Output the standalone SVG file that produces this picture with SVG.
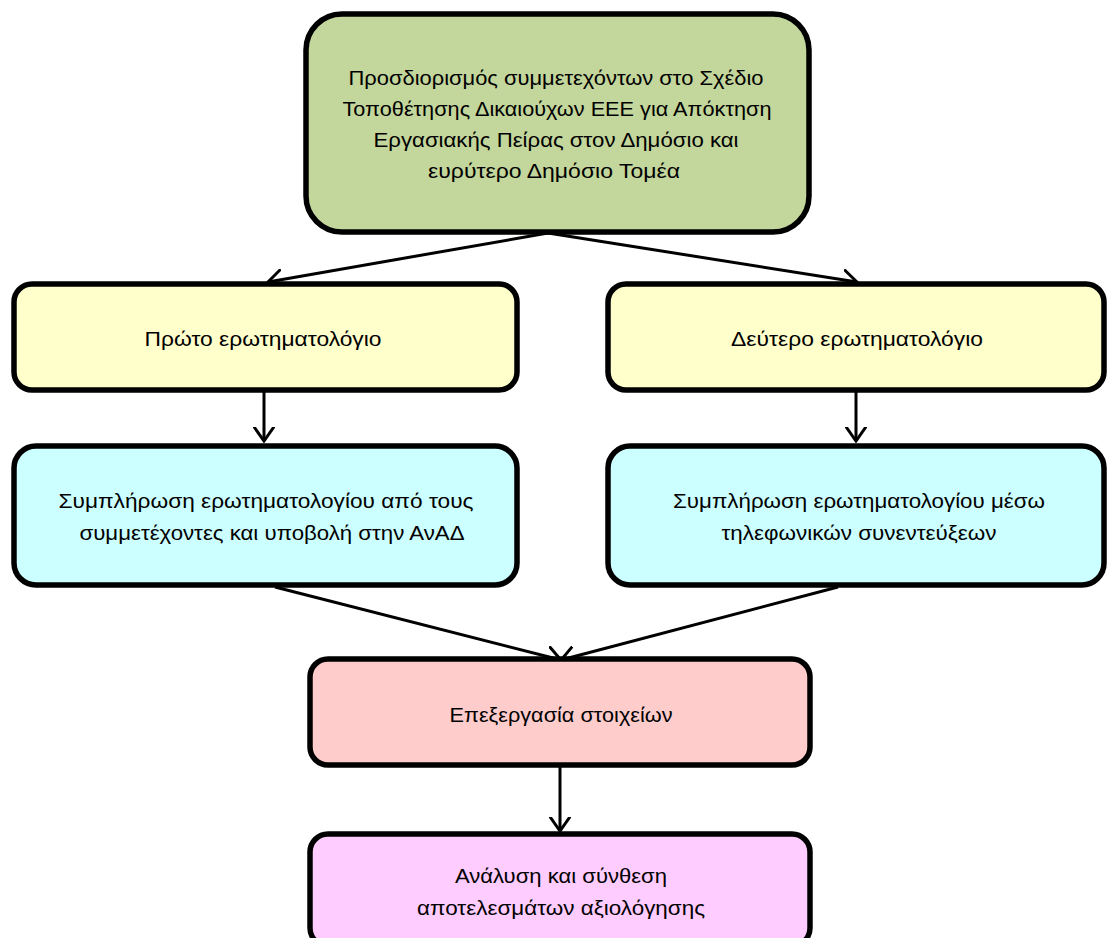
<svg xmlns="http://www.w3.org/2000/svg" width="1107" height="938" viewBox="0 0 1107 938">
<style>
.box{stroke:#000;stroke-width:5.5}
.t{font-family:"Liberation Sans",Arial,sans-serif;font-size:21px;fill:#000;text-anchor:middle}
.c{stroke:#000;stroke-width:3;fill:none;marker-end:url(#ah)}
</style>
<defs>
<marker id="ah" viewBox="0 0 16 22" refX="14.5" refY="11" markerWidth="16" markerHeight="22" markerUnits="userSpaceOnUse" orient="auto">
<path d="M1,1.5 L14.5,11 L1,20.5" fill="none" stroke="#000" stroke-width="3" stroke-linecap="round"/>
</marker>
</defs>
<rect width="1107" height="938" fill="#fff"/>
<g id="connectors">
<line class="c" x1="548" y1="233" x2="268" y2="282"/>
<line class="c" x1="548" y1="233" x2="857" y2="282"/>
<line class="c" x1="264" y1="392" x2="264" y2="441"/>
<line class="c" x1="856" y1="392" x2="856" y2="441"/>
<line class="c" x1="275" y1="587" x2="561" y2="660"/>
<line class="c" x1="838" y1="587" x2="561" y2="660"/>
<line class="c" x1="560" y1="767" x2="560" y2="831"/>
</g>
<g id="n1">
<rect class="box" x="306" y="14" width="503" height="218" rx="36" fill="#c3d69b"/>
<text class="t" x="556" y="85" textLength="415" lengthAdjust="spacingAndGlyphs">Προσδιορισμός συμμετεχόντων στο Σχέδιο</text>
<text class="t" x="557" y="116" textLength="429" lengthAdjust="spacingAndGlyphs">Τοποθέτησης Δικαιούχων ΕΕΕ για Απόκτηση</text>
<text class="t" x="556" y="147" textLength="365" lengthAdjust="spacingAndGlyphs">Εργασιακής Πείρας στον Δημόσιο και</text>
<text class="t" x="554" y="178" textLength="252" lengthAdjust="spacingAndGlyphs">ευρύτερο Δημόσιο Τομέα</text>
</g>
<g id="n2">
<rect class="box" x="14" y="284" width="503" height="106" rx="18" fill="#ffffcc"/>
<text class="t" x="263" y="346" textLength="237" lengthAdjust="spacingAndGlyphs">Πρώτο ερωτηματολόγιο</text>
</g>
<g id="n3">
<rect class="box" x="608" y="284" width="496" height="106" rx="18" fill="#ffffcc"/>
<text class="t" x="857" y="346" textLength="252" lengthAdjust="spacingAndGlyphs">Δεύτερο ερωτηματολόγιο</text>
</g>
<g id="n4">
<rect class="box" x="14" y="446" width="503" height="139" rx="22" fill="#ccffff"/>
<text class="t" x="266" y="508" textLength="415" lengthAdjust="spacingAndGlyphs">Συμπλήρωση ερωτηματολογίου από τους</text>
<text class="t" x="272" y="540" textLength="385" lengthAdjust="spacingAndGlyphs">συμμετέχοντες και υποβολή στην ΑνΑΔ</text>
</g>
<g id="n5">
<rect class="box" x="608" y="446" width="496" height="139" rx="22" fill="#ccffff"/>
<text class="t" x="859" y="508" textLength="372" lengthAdjust="spacingAndGlyphs">Συμπλήρωση ερωτηματολογίου μέσω</text>
<text class="t" x="859" y="540" textLength="275" lengthAdjust="spacingAndGlyphs">τηλεφωνικών  συνεντεύξεων</text>
</g>
<g id="n6">
<rect class="box" x="310" y="659" width="500" height="106" rx="18" fill="#ffcccc"/>
<text class="t" x="561" y="722" textLength="223" lengthAdjust="spacingAndGlyphs">Επεξεργασία στοιχείων</text>
</g>
<g id="n7">
<rect class="box" x="310" y="834" width="500" height="112" rx="18" fill="#ffccff"/>
<text class="t" x="561" y="883" textLength="212" lengthAdjust="spacingAndGlyphs">Ανάλυση και σύνθεση</text>
<text class="t" x="561" y="915" textLength="288" lengthAdjust="spacingAndGlyphs">αποτελεσμάτων αξιολόγησης</text>
</g>
</svg>
